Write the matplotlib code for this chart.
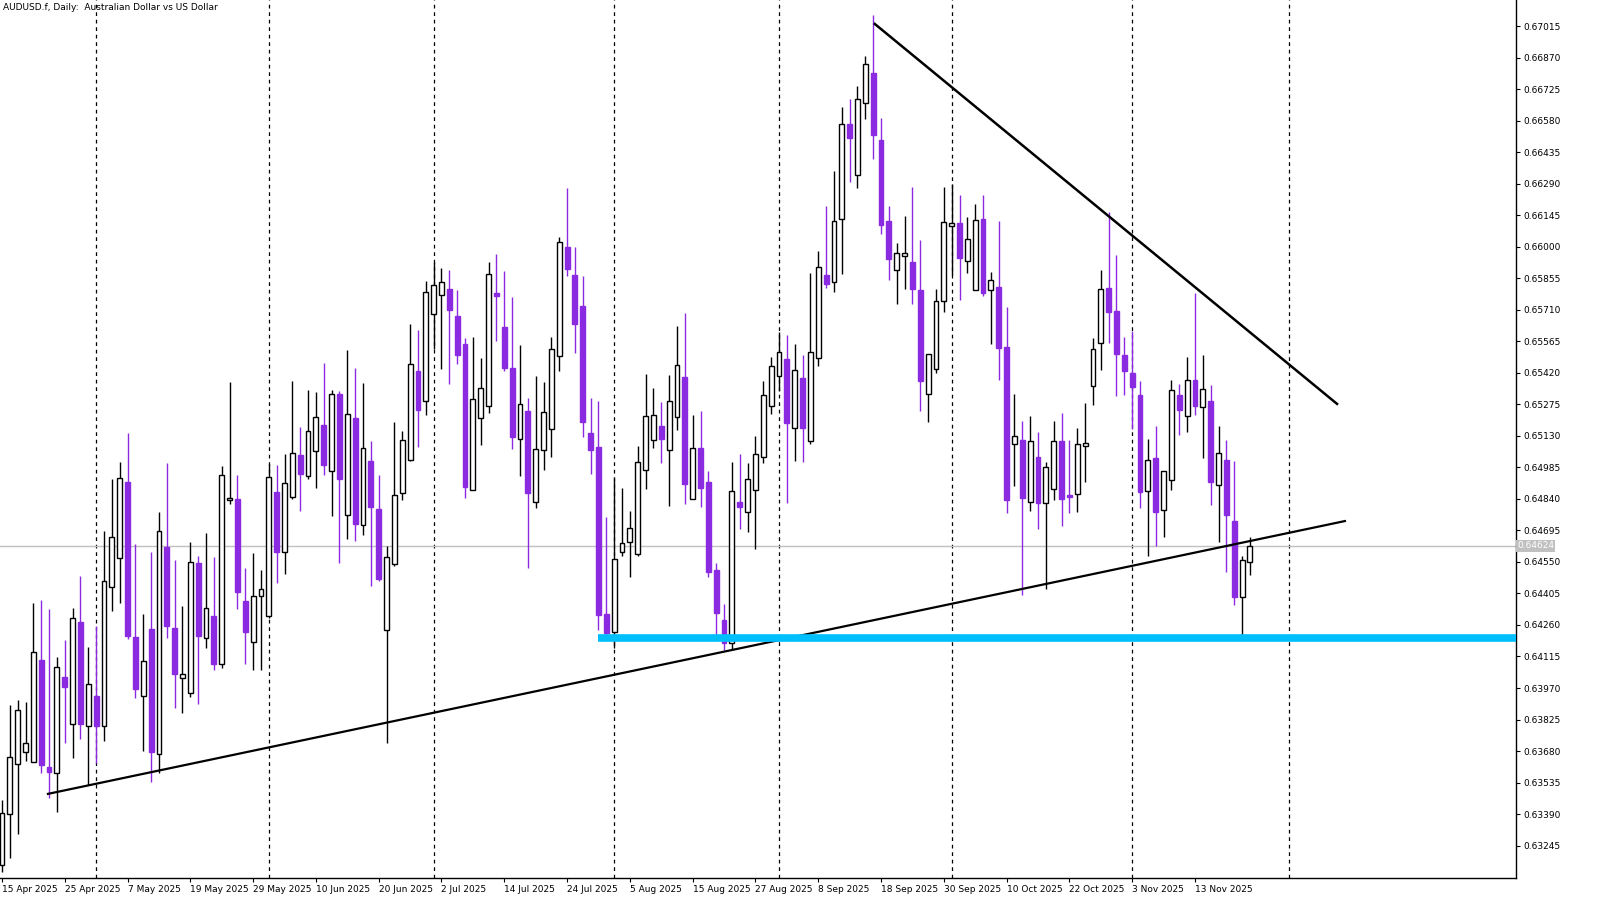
import matplotlib
matplotlib.use("Agg")
import matplotlib.pyplot as plt
from matplotlib.patches import Rectangle
import numpy as np
import pandas as pd

# daily OHLC, AUDUSD.f (bar 0 = 15 Apr 2025)
opens = [0.63156, 0.63391, 0.63621, 0.63676, 0.63630, 0.64099, 0.63607, 0.63579, 0.64021, 0.63805,
         0.64274, 0.63795, 0.63933, 0.63795, 0.64435, 0.64568, 0.64918, 0.64205, 0.63933, 0.64242,
         0.63667, 0.64619, 0.64246, 0.64016, 0.63947, 0.64545, 0.64200, 0.64301, 0.64081, 0.64835,
         0.64840, 0.64370, 0.64182, 0.64393, 0.64301, 0.64872, 0.64596, 0.64849, 0.65042, 0.64945,
         0.65060, 0.65180, 0.64968, 0.65323, 0.64766, 0.65212, 0.64720, 0.65014, 0.64794, 0.64237,
         0.64541, 0.64867, 0.65019, 0.65428, 0.65290, 0.65691, 0.65778, 0.65806, 0.65681, 0.65553,
         0.64881, 0.65212, 0.65267, 0.65787, 0.65631, 0.65442, 0.65116, 0.65244, 0.64826, 0.65065,
         0.65162, 0.65497, 0.65999, 0.65870, 0.65727, 0.65143, 0.65079, 0.64311, 0.64228, 0.64596,
         0.64642, 0.64587, 0.64973, 0.65111, 0.65175, 0.65065, 0.65217, 0.65401, 0.64840, 0.65074,
         0.64918, 0.64513, 0.64283, 0.64177, 0.64826, 0.64780, 0.64881, 0.65033, 0.65267, 0.65405,
         0.65484, 0.65166, 0.65396, 0.65106, 0.65488, 0.65870, 0.65838, 0.66128, 0.66565, 0.66330,
         0.66661, 0.66799, 0.66491, 0.66118, 0.65893, 0.65957, 0.65930, 0.65801, 0.65323, 0.65438,
         0.65750, 0.66095, 0.66109, 0.65934, 0.65801, 0.66128, 0.65801, 0.65815, 0.65539, 0.65093,
         0.65111, 0.64826, 0.65033, 0.64821, 0.64886, 0.65106, 0.64858, 0.64863, 0.65083, 0.65359,
         0.65557, 0.65810, 0.65704, 0.65502, 0.65419, 0.65318, 0.64876, 0.65028, 0.64789, 0.64927,
         0.65318, 0.65221, 0.65387, 0.65263, 0.65290, 0.64904, 0.65019, 0.64738, 0.64389, 0.64550]
highs = [0.63455, 0.63892, 0.63915, 0.63906, 0.64361, 0.64375, 0.64334, 0.64113, 0.64191, 0.64338,
         0.64485, 0.64159, 0.64255, 0.64692, 0.64932, 0.65010, 0.65143, 0.64633, 0.64311, 0.64596,
         0.64780, 0.65005, 0.64559, 0.64347, 0.64642, 0.64577, 0.64683, 0.64573, 0.64991, 0.65378,
         0.64950, 0.64522, 0.64591, 0.64513, 0.65001, 0.64996, 0.65047, 0.65382, 0.65171, 0.65341,
         0.65332, 0.65465, 0.65341, 0.65336, 0.65525, 0.65442, 0.65373, 0.65106, 0.64950, 0.64623,
         0.65194, 0.65152, 0.65645, 0.65617, 0.65842, 0.65930, 0.65902, 0.65893, 0.65801, 0.65580,
         0.65585, 0.65488, 0.65930, 0.65967, 0.65888, 0.65769, 0.65548, 0.65304, 0.65405, 0.65378,
         0.65585, 0.66045, 0.66270, 0.65999, 0.65865, 0.65304, 0.65290, 0.64757, 0.64936, 0.64890,
         0.64784, 0.65083, 0.65415, 0.65350, 0.65286, 0.65410, 0.65635, 0.65695, 0.65226, 0.65244,
         0.64968, 0.64545, 0.64357, 0.65010, 0.65047, 0.65005, 0.65129, 0.65382, 0.65493, 0.65608,
         0.65594, 0.65553, 0.65502, 0.65879, 0.65980, 0.66187, 0.66348, 0.66643, 0.66680, 0.66739,
         0.66877, 0.67066, 0.66592, 0.66187, 0.66017, 0.66141, 0.66275, 0.66031, 0.65507, 0.65806,
         0.66275, 0.66289, 0.66238, 0.66137, 0.66197, 0.66238, 0.65884, 0.66118, 0.65723, 0.65323,
         0.65198, 0.65221, 0.65148, 0.65010, 0.65198, 0.65235, 0.65111, 0.65166, 0.65281, 0.65580,
         0.65893, 0.66160, 0.65962, 0.65585, 0.65612, 0.65382, 0.65116, 0.65175, 0.64968, 0.65387,
         0.65369, 0.65493, 0.65787, 0.65502, 0.65364, 0.65175, 0.65111, 0.65014, 0.64577, 0.64665]
lows = [0.63124, 0.63188, 0.63299, 0.63634, 0.63630, 0.63579, 0.63464, 0.63400, 0.63717, 0.63648,
        0.63736, 0.63524, 0.63625, 0.63726, 0.64324, 0.64361, 0.64196, 0.63924, 0.63680, 0.63538,
        0.63579, 0.64200, 0.63878, 0.63855, 0.63929, 0.63897, 0.64154, 0.64053, 0.64062, 0.64817,
        0.64334, 0.64081, 0.64053, 0.64053, 0.64292, 0.64453, 0.64495, 0.64840, 0.64784, 0.64932,
        0.64890, 0.64950, 0.64761, 0.64545, 0.64656, 0.64646, 0.64674, 0.64439, 0.64462, 0.63717,
        0.64531, 0.64835, 0.65014, 0.65079, 0.65226, 0.65530, 0.65438, 0.65369, 0.65461, 0.64844,
        0.64881, 0.65088, 0.65235, 0.65566, 0.65428, 0.65070, 0.64945, 0.64522, 0.64798, 0.64973,
        0.65033, 0.65428, 0.65865, 0.65511, 0.65125, 0.64955, 0.64237, 0.64191, 0.64154, 0.64577,
        0.64481, 0.64577, 0.64886, 0.65074, 0.65005, 0.64807, 0.65157, 0.64817, 0.64840, 0.64803,
        0.64481, 0.64214, 0.64145, 0.64145, 0.64702, 0.64688, 0.64610, 0.65005, 0.65231, 0.65336,
        0.64821, 0.65014, 0.65010, 0.65093, 0.65451, 0.65810, 0.65792, 0.65875, 0.66298, 0.66270,
        0.66588, 0.66404, 0.66059, 0.65847, 0.65737, 0.65806, 0.65737, 0.65244, 0.65194, 0.65419,
        0.65700, 0.65870, 0.65755, 0.65879, 0.65801, 0.65773, 0.65553, 0.65387, 0.64775, 0.64899,
        0.64398, 0.64784, 0.64702, 0.64426, 0.64835, 0.64715, 0.64775, 0.64780, 0.64918, 0.65272,
        0.65433, 0.65557, 0.65313, 0.65318, 0.65162, 0.64798, 0.64577, 0.64623, 0.64665, 0.64881,
        0.65134, 0.65148, 0.65226, 0.65028, 0.64812, 0.64642, 0.64504, 0.64352, 0.64209, 0.64490]
closes = [0.63395, 0.63653, 0.63869, 0.63717, 0.64136, 0.63616, 0.63584, 0.64067, 0.63975, 0.64292,
          0.63805, 0.63989, 0.63795, 0.64462, 0.64665, 0.64936, 0.64209, 0.63966, 0.64094, 0.63676,
          0.64692, 0.64255, 0.64035, 0.64035, 0.64550, 0.64209, 0.64338, 0.64081, 0.64950, 0.64844,
          0.64412, 0.64228, 0.64393, 0.64426, 0.64941, 0.64596, 0.64913, 0.65051, 0.64955, 0.65152,
          0.65217, 0.64996, 0.65323, 0.64932, 0.65231, 0.64725, 0.65074, 0.64803, 0.64472, 0.64573,
          0.64858, 0.65111, 0.65461, 0.65249, 0.65792, 0.65824, 0.65838, 0.65709, 0.65502, 0.64895,
          0.65300, 0.65350, 0.65875, 0.65773, 0.65442, 0.65125, 0.65277, 0.64867, 0.65070, 0.65240,
          0.65530, 0.66022, 0.65898, 0.65645, 0.65194, 0.65065, 0.64306, 0.64223, 0.64564, 0.64637,
          0.64706, 0.65010, 0.65221, 0.65226, 0.65116, 0.65290, 0.65456, 0.64909, 0.65074, 0.64890,
          0.64504, 0.64315, 0.64177, 0.64876, 0.64803, 0.64932, 0.65047, 0.65318, 0.65451, 0.65516,
          0.65189, 0.65433, 0.65166, 0.65516, 0.65907, 0.65829, 0.66118, 0.66565, 0.66500, 0.66680,
          0.66841, 0.66514, 0.66100, 0.65944, 0.65971, 0.65971, 0.65806, 0.65382, 0.65507, 0.65750,
          0.66114, 0.66109, 0.65948, 0.66036, 0.66123, 0.65787, 0.65847, 0.65534, 0.64835, 0.65129,
          0.64844, 0.65106, 0.64821, 0.64987, 0.65106, 0.64840, 0.64849, 0.65093, 0.65097, 0.65530,
          0.65806, 0.65700, 0.65507, 0.65428, 0.65355, 0.64872, 0.65019, 0.64780, 0.64968, 0.65341,
          0.65249, 0.65387, 0.65267, 0.65346, 0.64918, 0.65051, 0.64766, 0.64389, 0.64559, 0.64624]

price_ticks = [0.67015, 0.66870, 0.66725, 0.66580, 0.66435, 0.66290, 0.66145, 0.66000, 0.65855,
               0.65710, 0.65565, 0.65420, 0.65275, 0.65130, 0.64985, 0.64840, 0.64695, 0.64550,
               0.64405, 0.64260, 0.64115, 0.63970, 0.63825, 0.63680, 0.63535, 0.63390, 0.63245]
last_price = 0.64624

# drawn objects: (bar, price) endpoints
support_line = [(5.86, 0.63483), (171.1, 0.64738)]
resist_line = [(111.2, 0.67025), (170.1, 0.65277)]
zone_start, zone_price = 75.9, 0.64200

BULL_EDGE = "black"
BEAR = "#8a2be2"

n = len(opens)
dates = pd.bdate_range("2025-04-15", periods=n + 10)

fig = plt.figure(figsize=(15.97, 9.15), dpi=100)
ax = fig.add_axes([0.0, 37 / 915, 1516 / 1597, 878 / 915])
ax.set_xlim(-0.25, 192.9)
ax.set_ylim(0.63096, 0.67135)

w = 0.62
for i in range(n):
    o, h, l, c = opens[i], highs[i], lows[i], closes[i]
    bull = c >= o
    col = BULL_EDGE if bull else BEAR
    ax.plot([i, i], [l, h], color=col, lw=1, zorder=3, solid_capstyle="butt")
    lo, hi = min(o, c), max(o, c)
    ax.add_patch(Rectangle((i - w / 2, lo), w, max(hi - lo, 0.00003),
                           facecolor="white" if bull else BEAR, edgecolor=col, lw=1, zorder=4))

# month separators
months = pd.Series(range(len(dates)), index=dates)
firsts = months.groupby([dates.year, dates.month]).first().values[1:]
for b in firsts:
    ax.axvline(b, color="black", lw=0.9, ls=(0, (3, 3)), zorder=1)

ax.axhline(last_price, color="#c0c0c0", lw=1, zorder=2)
ax.plot(*zip(*support_line), color="black", lw=1.6, zorder=5)
ax.plot(*zip(*resist_line), color="black", lw=1.8, zorder=5)
ax.plot([zone_start, 200], [zone_price, zone_price], color="#00bfff", lw=5.5,
        solid_capstyle="butt", zorder=6)

# axes styling
for s in ["top", "left"]:
    ax.spines[s].set_visible(False)
ax.spines["right"].set_linewidth(1)
ax.spines["bottom"].set_linewidth(1)
ax.yaxis.tick_right()
ax.set_yticks(price_ticks)
ax.set_yticklabels([f"{p:.5f}" for p in price_ticks], fontsize=6.5)
ax.tick_params(axis="y", length=3, pad=2)
xt = list(range(0, n, 8))
ax.set_xticks(xt)
ax.set_xticklabels([f"{dates[i].day} {dates[i].strftime('%b %Y')}" for i in xt],
                   fontsize=6.5, ha="left")
ax.tick_params(axis="x", length=3, pad=2)
for lab in ax.get_xticklabels():
    lab.set_x(lab.get_position()[0])

ax.text(1.0 + 1.0 / 1516, last_price, "0.64624", transform=ax.get_yaxis_transform(),
        fontsize=6.5, color="white", va="center", ha="left",
        bbox=dict(boxstyle="square,pad=0.15", fc="#c0c0c0", ec="none"), zorder=10, clip_on=False)
ax.text(0.002, 0.997, "AUDUSD.f, Daily:  Australian Dollar vs US Dollar", transform=ax.transAxes,
        fontsize=6.5, va="top", ha="left")

fig.savefig("out.png", dpi=100)
